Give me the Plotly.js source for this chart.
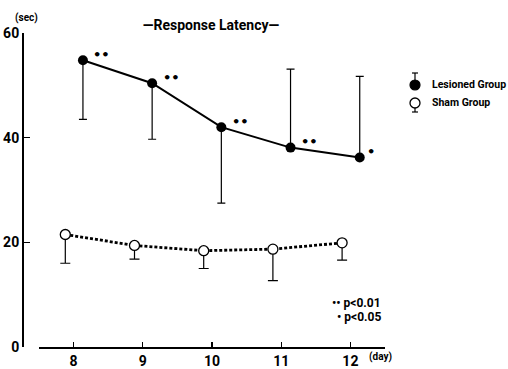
<!DOCTYPE html>
<html>
<head>
<meta charset="utf-8">
<script src="https://cdn.plot.ly/plotly-3.0.1.min.js"></script>
<style>
  html, body { margin: 0; padding: 0; background: #fff; }
  #chart { width: 508px; height: 369px; }
</style>
</head>
<body>
<div id="chart"></div>
<script>
// Response latency (sec) per test day
const days = [8, 9, 10, 11, 12];
const lesionedMean = [54.8, 50.4, 42.0, 38.1, 36.2];
const lesionedErrUp = [0, 0, 0, 15.0, 15.5];
const lesionedErrDown = [11.3, 10.7, 14.5, 0, 0];
const shamMean = [21.5, 19.4, 18.4, 18.7, 19.9];
const shamErrUp = [0, 0, 0, 0, 0];
const shamErrDown = [5.5, 2.6, 3.4, 6.0, 3.3];
const significance = ['••', '••', '••', '••', '•'];
const yTickVals = [0, 20, 40, 60];
const yTickText = ['0', '20', '40', '60'];
const xTickVals = [8, 9, 10, 11, 12];
const xTickText = ['8', '9', '10', '11', '12'];

// the two groups are drawn side by side around each day
const LESIONED_SHIFT = 0.135;
const SHAM_SHIFT = -0.12;

const W = 508, H = 369;
const M = { l: 23, r: 123, t: 33, b: 22 };
const plotW = W - M.l - M.r, plotH = H - M.t - M.b;
const px = v => (v - M.l) / plotW;      // page pixel -> paper x
const py = v => (H - M.b - v) / plotH;  // page pixel -> paper y

const lesioned = {
  x: days.map(d => d + LESIONED_SHIFT),
  y: lesionedMean,
  mode: 'lines+markers',
  line: { color: '#000', width: 2 },
  marker: { symbol: 'circle', size: 10, color: '#000' },
  error_y: { type: 'data', symmetric: false, array: lesionedErrUp, arrayminus: lesionedErrDown,
             color: '#000', thickness: 1.2, width: 4 },
  showlegend: false, hoverinfo: 'skip'
};
const sham = {
  x: days.map(d => d + SHAM_SHIFT),
  y: shamMean,
  mode: 'lines+markers',
  line: { color: '#000', width: 2.8, dash: '3px,2px' },
  marker: { symbol: 'circle', size: 10, color: '#fff', line: { color: '#000', width: 1.3 } },
  error_y: { type: 'data', symmetric: false, array: shamErrUp, arrayminus: shamErrDown,
             color: '#000', thickness: 1.2, width: 5 },
  showlegend: false, hoverinfo: 'skip'
};

const bold = (size, fam) => ({ family: fam || 'Roboto', size: size, color: '#000', weight: 700 });

// significance marks beside the lesioned means
const annotations = significance.map((s, i) => ({
  x: days[i] + LESIONED_SHIFT, y: lesionedMean[i], xref: 'x', yref: 'y',
  xanchor: 'center', yanchor: 'middle',
  text: s, showarrow: false, xshift: s.length > 1 ? 19 : 11, yshift: 6,
  font: bold(13, '"DejaVu Sans"')
}));

const note = (x, y, text, size, xanchor, fam) => ({
  x: px(x), y: py(y), xref: 'paper', yref: 'paper', xanchor: xanchor, yanchor: 'middle',
  text: text, showarrow: false, font: bold(size, fam)
});
annotations.push(
  note(26, 17.5, '(sec)', 10, 'center'),
  note(380, 357, '(day)', 10, 'center'),
  note(383, 303, '•• p<0.01', 12, 'right'),
  note(383, 317, '• p<0.05', 12, 'right'),
  note(430, 85, 'Lesioned Group', 10.5, 'left'),
  note(430, 103, 'Sham Group', 10.5, 'left')
);

// legend keys: symbol with its one-sided error bar
function keyShape(type, cx, cy, x0, x1, y0, y1, extra) {
  return Object.assign({
    type: type, xref: 'paper', yref: 'paper',
    xsizemode: 'pixel', ysizemode: 'pixel',
    xanchor: px(cx), yanchor: py(cy),
    x0: x0, x1: x1, y0: y0, y1: y1,
    line: { color: '#000', width: 1.2 }
  }, extra || {});
}
const shapes = [
  keyShape('line', 415, 85, 0, 0, 0, 12),
  keyShape('line', 415, 85, -3, 3, 12, 12),
  keyShape('circle', 415, 85, -5, 5, -5, 5, { fillcolor: '#000' }),
  keyShape('line', 415, 103, 0, 0, 0, -9),
  keyShape('line', 415, 103, -3, 3, -9, -9),
  keyShape('circle', 415, 103, -5, 5, -5, 5, { fillcolor: '#fff', line: { color: '#000', width: 1.3 } })
];

const layout = {
  width: W, height: H,
  margin: M,
  paper_bgcolor: '#fff', plot_bgcolor: '#fff',
  showlegend: false,
  title: {
    text: '—Response Latency—',
    xref: 'paper', x: px(211), xanchor: 'center',
    yref: 'container', y: 1 - 25 / H, yanchor: 'middle',
    font: bold(14)
  },
  xaxis: {
    domain: [(39 - M.l) / plotW, 1],
    range: [7.5, 12.5],
    showline: true, linecolor: '#000', linewidth: 2,
    ticks: 'inside', ticklen: 5, tickwidth: 1.2, tickcolor: '#000',
    tickvals: xTickVals, ticktext: xTickText,
    tickfont: bold(14),
    showgrid: false, zeroline: false, fixedrange: true
  },
  yaxis: {
    anchor: 'free', position: 0,
    range: [0, 60],
    showline: true, linecolor: '#000', linewidth: 2,
    ticks: 'inside', ticklen: 6, tickwidth: 1.2, tickcolor: '#000',
    tickvals: yTickVals, ticktext: yTickText,
    tickfont: bold(14),
    ticklabelstandoff: 0,
    showgrid: false, zeroline: false, fixedrange: true
  },
  annotations: annotations,
  shapes: shapes
};

Plotly.newPlot('chart', [sham, lesioned], layout, { staticPlot: true, displayModeBar: false });
</script>
</body>
</html>
